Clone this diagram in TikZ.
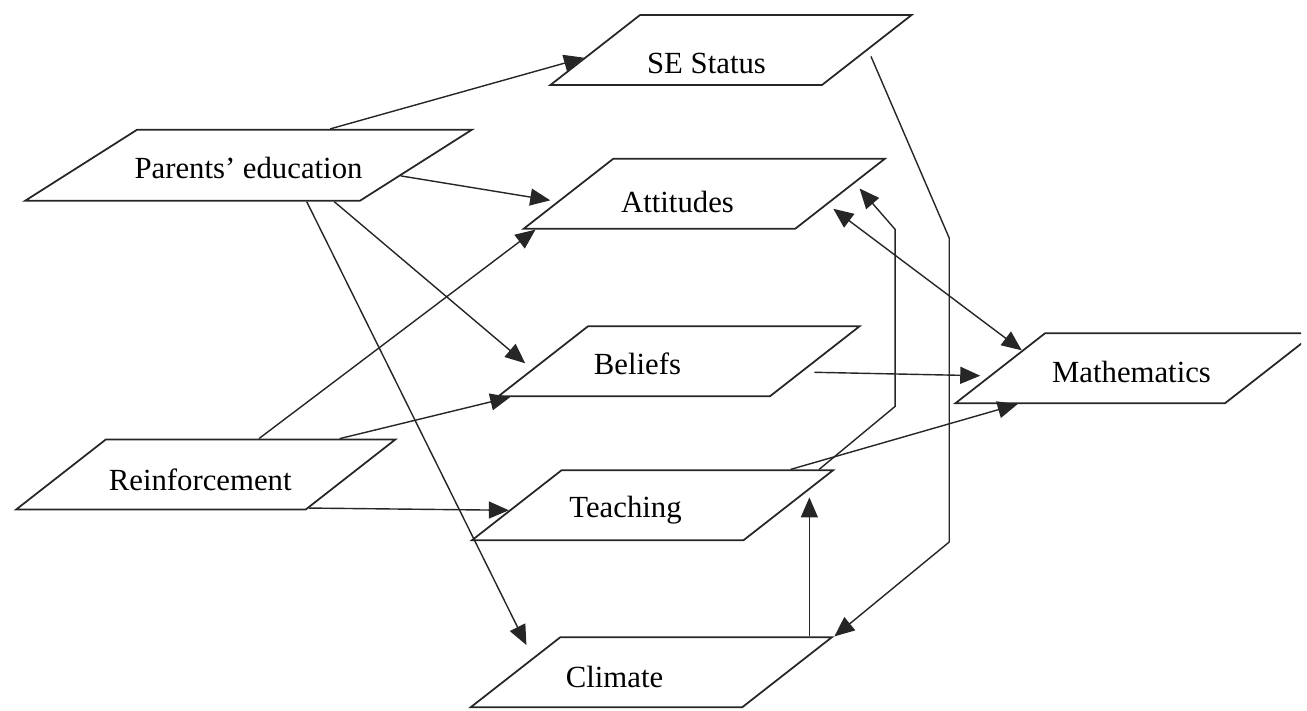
\documentclass[tikz,border=0pt]{standalone}
\usepackage{fontspec}
\setmainfont{Liberation Serif}
\usetikzlibrary{shapes.geometric,arrows.meta}
\definecolor{ink}{HTML}{262626}

\begin{document}
\begin{tikzpicture}[x=0.02cm, y=-0.02cm,
  every node/.style={font=\fontsize{17.5}{21}\selectfont},
  box/.style={draw=ink, line width=1pt, trapezium, trapezium left angle=38, trapezium right angle=142,
    inner xsep=1.82cm, inner ysep=0.7cm},
  link/.style={draw=ink, line width=0.8pt, -{Triangle[length=4mm, width=3.4mm]}}]
  \useasboundingbox (0,0) rectangle (1307,710);
  \clip (0,0) rectangle (1301,710);
  % background factors
  \node[box, trapezium left angle=32.4, trapezium right angle=147.6, inner xsep=2.23cm, inner ysep=0.71cm,
    label={[yshift=-0.06cm]center:Parents' education}] (par) at (248.5,165.25) {};
  \node[box, inner xsep=2cm, label={[xshift=-0.11cm, yshift=-0.11cm]center:Reinforcement}] (rei) at (205.75,474.5) {};
  % middle column
  \node[box, label={[xshift=-0.49cm, yshift=-0.26cm]center:SE Status}] (se) at (731,50) {};
  \node[box, label={[xshift=-0.535cm, yshift=-0.16cm]center:Attitudes}] (att) at (704.25,193.75) {};
  \node[box, label={[xshift=-0.83cm, yshift=-0.05cm]center:Beliefs}] (bel) at (679,361.25) {};
  \node[box, label={[xshift=-0.54cm, yshift=-0.09cm]center:Teaching}] (tea) at (652.5,505.25) {};
  \node[box, label={[xshift=-0.735cm, yshift=-0.10cm]center:Climate}] (cli) at (651.25,672.25) {};
  % outcome
  \node[box, inner xsep=1.8cm, label={[xshift=-0.07cm, yshift=-0.08cm]center:Mathematics}] (mat) at (1135,368.25) {};

  \draw[link] (par.24) -- (se.183.6);
  \draw[link, shorten >=4pt] (par.-4.35) -- (att.183.4);
  \draw[link, shorten >=5pt] (par.-23.5) -- (bel.183.2);
  \draw[link, shorten >=8pt] (par.-32.1) -- (cli.173.5);
  \draw[link] (rei.34.7) -- (att.192.8);
  \draw[link] (rei.15.9) -- (bel.192);
  \draw[link] (rei.-18.8) -- (tea.182.6);
  \draw[link, shorten <=6.8pt, shorten >=5pt] (bel.-5.95) -- (mat.183.55);
  \draw[link] ([xshift=-0.9cm]tea.top right corner) -- (mat.197.5);
  \draw[link, {Triangle[length=4mm, width=3.4mm]}-{Triangle[length=4mm, width=3.4mm]}, shorten <=4pt] (att.-5.9) -- (mat.171);
  \draw[link, shorten >=4pt] ([xshift=-0.33cm]tea.top right corner) -- ++(76,-63) -- ++(0,-177) -- (att.4.6);
  \draw[link, shorten <=4pt] (se.east) -- ++(81,188) -- ++(0,304) -- (cli.top right corner);
  \draw[link] ([xshift=-0.5cm]cli.top right corner) -- ++(0,-139);
\end{tikzpicture}
\end{document}
